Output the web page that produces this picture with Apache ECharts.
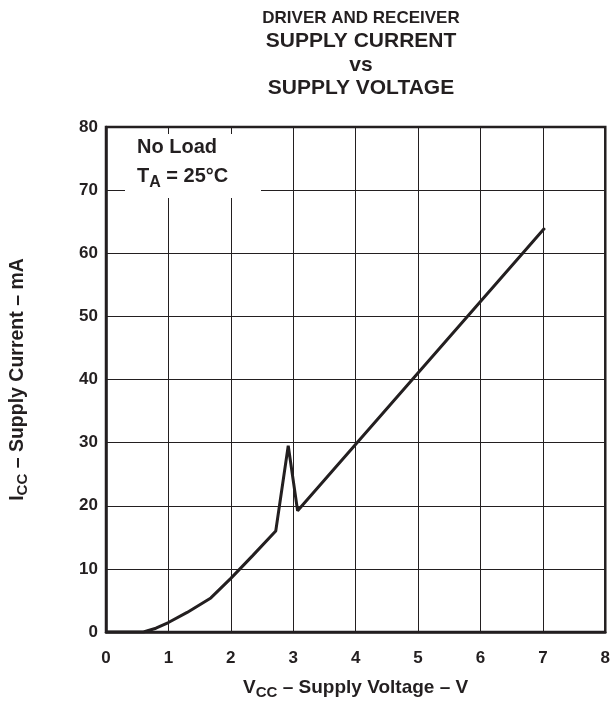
<!DOCTYPE html>
<html>
<head>
<meta charset="utf-8">
<script src="https://cdn.jsdelivr.net/npm/echarts@6/dist/echarts.min.js"></script>
<style>
  html, body { margin: 0; padding: 0; background: #fff; }
  #chart { width: 613px; height: 705px; }
</style>
</head>
<body>
<div id="chart"></div>
<script>
// 数据：电源电压 (V) 与电源电流 (mA)
const supplyVoltage = [0, 0.6, 0.8, 1.0, 1.3, 1.68, 2.0, 2.35, 2.72, 2.92, 3.07, 7.03];
const supplyCurrent = [0, 0, 0.6, 1.5, 3.1, 5.4, 8.5, 12.1, 16.0, 29.5, 19.2, 64.0];

const xTicks = [0, 1, 2, 3, 4, 5, 6, 7, 8];
const yTicks = [0, 10, 20, 30, 40, 50, 60, 70, 80];

const titleLines = ['DRIVER AND RECEIVER', 'SUPPLY CURRENT', 'vs', 'SUPPLY VOLTAGE'];

const chart = echarts.init(document.getElementById('chart'));
const font = 'Liberation Sans, Arial, sans-serif';
const ink = '#231f20';

// 下标样式（I_CC、V_CC、T_A）
function richLabel(size, subSize, lh) {
  return {
    n: { fontSize: size, fontWeight: 'bold', color: ink, fill: ink, fontFamily: font, lineHeight: lh },
    s: { fontSize: subSize, fontWeight: 'bold', color: ink, fill: ink, fontFamily: font, lineHeight: subSize, verticalAlign: 'bottom' }
  };
}

const option = {
  backgroundColor: '#fff',
  animation: false,
  textStyle: { fontFamily: font },
  title: {
    text: '{a|' + titleLines[0] + '}\n{big|' + titleLines[1] + '}\n{big|' + titleLines[2] + '}\n{big|' + titleLines[3] + '}',
    left: 356,
    top: 2,
    textAlign: 'center',
    textStyle: {
      align: 'center',
      rich: {
        a: { fontFamily: font, fontWeight: 'bold', fontSize: 17, lineHeight: 23, color: ink },
        big: { fontFamily: font, fontWeight: 'bold', fontSize: 21, lineHeight: 23.3, color: ink }
      }
    }
  },
  grid: {
    left: 104, right: 6, top: 127, bottom: 73,
    show: true,
    borderColor: ink,
    borderWidth: 2.5
  },
  xAxis: {
    type: 'value',
    min: 0, max: 8, interval: 1,
    axisLine: { show: true, lineStyle: { color: ink, width: 2.5 } },
    axisTick: { show: false },
    splitLine: { show: true, lineStyle: { color: ink, width: 1 } },
    axisLabel: {
      margin: 18,
      fontSize: 17, fontWeight: 'bold', color: ink, fontFamily: font,
      formatter: v => xTicks.includes(v) ? String(v) : ''
    },
    name: '{n|V}{s|CC}{n| – Supply Voltage – V}',
    nameLocation: 'middle',
    nameGap: 44,
    nameTextStyle: { rich: richLabel(19, 15, 24) }
  },
  yAxis: {
    type: 'value',
    min: 0, max: 80, interval: 10,
    axisLine: { show: true, lineStyle: { color: ink, width: 2.5 } },
    axisTick: { show: false },
    splitLine: { show: true, lineStyle: { color: ink, width: 1 } },
    axisLabel: {
      margin: 8,
      fontSize: 17, fontWeight: 'bold', color: ink, fontFamily: font,
      formatter: v => yTicks.includes(v) ? String(v) : ''
    },
    name: '{n|I}{s|CC}{n| – Supply Current – mA}',
    nameLocation: 'middle',
    nameGap: 76,
    nameRotate: 90,
    nameTextStyle: { rich: richLabel(19.5, 15, 24) }
  },
  graphic: [
    {
      type: 'rect',
      shape: { x: 125, y: 134, width: 136, height: 64 },
      style: { fill: '#fff' },
      z: 10
    },
    {
      type: 'text',
      left: 137, top: 137,
      z: 11,
      style: {
        text: '{n|No Load}\n{n|T}{s|A}{n| = 25°C}',
        rich: richLabel(20, 16, 29)
      }
    }
  ],
  series: [{
    type: 'line',
    data: supplyVoltage.map((v, i) => [v, supplyCurrent[i]]),
    showSymbol: false,
    smooth: false,
    lineStyle: { color: ink, width: 3 },
    z: 5
  }]
};

chart.setOption(option);
</script>
</body>
</html>
